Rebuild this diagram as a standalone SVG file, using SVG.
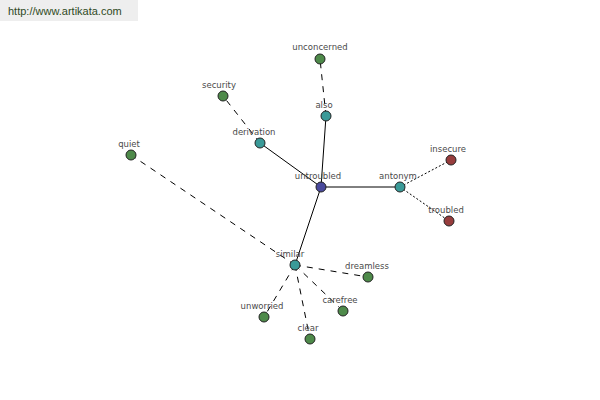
<svg xmlns="http://www.w3.org/2000/svg" width="600" height="400" viewBox="0 0 600 400">
<style>
.n circle{stroke:#222;stroke-width:1}
.g{fill:#4e8a4a}.t{fill:#3a9a98}.r{fill:#973d3d}.b{fill:#4a4a9c}
text{font-family:"DejaVu Sans",Verdana,sans-serif;font-size:8.5px;fill:#4a4a4a;text-anchor:middle}
.s{stroke:#000;stroke-width:1;fill:none}
.d{stroke:#000;stroke-width:1;fill:none;stroke-dasharray:6,6}
.o{stroke:#000;stroke-width:1;fill:none;stroke-dasharray:2,2}
</style>
<rect x="0" y="0" width="138" height="21" fill="#eeeeee"/>
<text x="8" y="15" style="text-anchor:start;font-family:'Liberation Sans',Arial,sans-serif;font-size:11px;fill:#2e4a1e">http://www.artikata.com</text>
<g id="connectors">
<line class="s" x1="321" y1="187" x2="326" y2="116"/>
<line class="s" x1="321" y1="187" x2="260" y2="143"/>
<line class="s" x1="321" y1="187" x2="400" y2="187"/>
<line class="s" x1="321" y1="187" x2="295" y2="265"/>
<line class="d" x1="326" y1="116" x2="320" y2="59"/>
<line class="d" x1="260" y1="143" x2="223" y2="96"/>
<line class="o" x1="400" y1="187" x2="451" y2="160"/>
<line class="o" x1="400" y1="187" x2="449" y2="221"/>
<line class="d" x1="295" y1="265" x2="131" y2="155"/>
<line class="d" x1="295" y1="265" x2="368" y2="277"/>
<line class="d" x1="295" y1="265" x2="343" y2="311"/>
<line class="d" x1="295" y1="265" x2="310" y2="339"/>
<line class="d" x1="295" y1="265" x2="264" y2="317"/>
</g>
<g id="untroubled" class="n"><circle class="b" cx="321" cy="187" r="5"/><text x="318" y="179">untroubled</text></g>
<g id="also" class="n"><circle class="t" cx="326" cy="116" r="5"/><text x="324" y="108">also</text></g>
<g id="unconcerned" class="n"><circle class="g" cx="320" cy="59" r="5"/><text x="320" y="50">unconcerned</text></g>
<g id="derivation" class="n"><circle class="t" cx="260" cy="143" r="5"/><text x="254" y="135">derivation</text></g>
<g id="security" class="n"><circle class="g" cx="223" cy="96" r="5"/><text x="219" y="88">security</text></g>
<g id="antonym" class="n"><circle class="t" cx="400" cy="187" r="5"/><text x="398" y="179">antonym</text></g>
<g id="insecure" class="n"><circle class="r" cx="451" cy="160" r="5"/><text x="448" y="152">insecure</text></g>
<g id="troubled" class="n"><circle class="r" cx="449" cy="221" r="5"/><text x="446" y="213">troubled</text></g>
<g id="similar" class="n"><circle class="t" cx="295" cy="265" r="5"/><text x="290" y="257">similar</text></g>
<g id="quiet" class="n"><circle class="g" cx="131" cy="155" r="5"/><text x="129" y="147">quiet</text></g>
<g id="dreamless" class="n"><circle class="g" cx="368" cy="277" r="5"/><text x="367" y="269">dreamless</text></g>
<g id="carefree" class="n"><circle class="g" cx="343" cy="311" r="5"/><text x="340" y="303">carefree</text></g>
<g id="clear" class="n"><circle class="g" cx="310" cy="339" r="5"/><text x="308" y="331">clear</text></g>
<g id="unworried" class="n"><circle class="g" cx="264" cy="317" r="5"/><text x="262" y="309">unworried</text></g>
</svg>
